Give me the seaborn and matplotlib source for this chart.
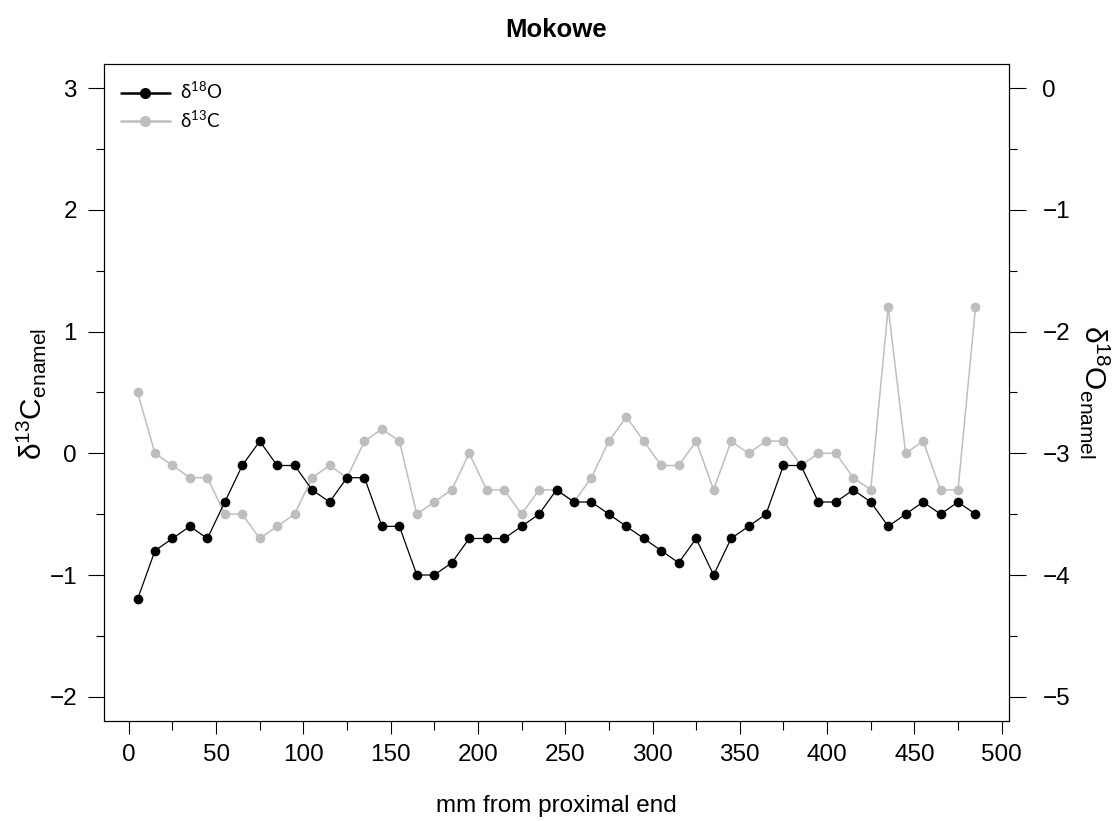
import matplotlib
matplotlib.use("Agg")
import matplotlib.pyplot as plt
from matplotlib.lines import Line2D
from matplotlib.ticker import MultipleLocator
import seaborn as sns

# Sample positions along the tooth (mm from proximal end)
pos_mm = [5, 15, 25, 35, 45, 55, 65, 75, 85, 95,
          105, 115, 125, 135, 145, 155, 165, 175, 185, 195,
          205, 215, 225, 235, 245, 255, 265, 275, 285, 295,
          305, 315, 325, 335, 345, 355, 365, 375, 385, 395,
          405, 415, 425, 435, 445, 455, 465, 475, 485]

# Enamel carbon isotope values (left axis)
d13c = [0.5, 0.0, -0.1, -0.2, -0.2, -0.5, -0.5, -0.7, -0.6, -0.5,
        -0.2, -0.1, -0.2, 0.1, 0.2, 0.1, -0.5, -0.4, -0.3, 0.0,
        -0.3, -0.3, -0.5, -0.3, -0.3, -0.4, -0.2, 0.1, 0.3, 0.1,
        -0.1, -0.1, 0.1, -0.3, 0.1, 0.0, 0.1, 0.1, -0.1, 0.0,
        0.0, -0.2, -0.3, 1.2, 0.0, 0.1, -0.3, -0.3, 1.2]

# Enamel oxygen isotope values (right axis)
d18o = [-4.2, -3.8, -3.7, -3.6, -3.7, -3.4, -3.1, -2.9, -3.1, -3.1,
        -3.3, -3.4, -3.2, -3.2, -3.6, -3.6, -4.0, -4.0, -3.9, -3.7,
        -3.7, -3.7, -3.6, -3.5, -3.3, -3.4, -3.4, -3.5, -3.6, -3.7,
        -3.8, -3.9, -3.7, -4.0, -3.7, -3.6, -3.5, -3.1, -3.1, -3.4,
        -3.4, -3.3, -3.4, -3.6, -3.5, -3.4, -3.5, -3.4, -3.5]

x_ticks = [0, 50, 100, 150, 200, 250, 300, 350, 400, 450, 500]
c_ticks = [-2, -1, 0, 1, 2, 3]
o_ticks = [-5, -4, -3, -2, -1, 0]

sns.set_style("ticks")
plt.rcParams["font.family"] = ["Liberation Sans", "DejaVu Sans"]
plt.rcParams["mathtext.fontset"] = "custom"
plt.rcParams["mathtext.rm"] = "Liberation Sans"
plt.rcParams["mathtext.it"] = "Liberation Sans"
plt.rcParams["axes.unicode_minus"] = True
plt.rcParams["text.color"] = "black"
plt.rcParams["xtick.color"] = "black"
plt.rcParams["ytick.color"] = "black"
plt.rcParams["xtick.labelcolor"] = "black"
plt.rcParams["ytick.labelcolor"] = "black"

GREY = "#BEBEBE"
W, H = 1119, 821
fig = plt.figure(figsize=(W / 100, H / 100), dpi=100)
L, R, T, B = 104, 1009, 64, 721
ax = fig.add_axes([L / W, 1 - B / H, (R - L) / W, (B - T) / H])
ax2 = ax.twinx()

sns.lineplot(x=pos_mm, y=d13c, ax=ax, color=GREY, marker="o",
             markersize=7, markeredgewidth=0, linewidth=1.1)
sns.lineplot(x=pos_mm, y=d18o, ax=ax2, color="black", marker="o",
             markersize=7, markeredgewidth=0, linewidth=0.9)

ax.set_xlim(-14.2, 504.2)
ax.set_ylim(-2.2, 3.2)
ax2.set_ylim(-5.2, 0.2)

ax.set_xticks(x_ticks)
ax.xaxis.set_minor_locator(MultipleLocator(25))
ax.set_yticks(c_ticks)
ax.yaxis.set_minor_locator(MultipleLocator(0.5))
ax2.set_yticks(o_ticks)
ax2.yaxis.set_minor_locator(MultipleLocator(0.5))

for a in (ax, ax2):
    a.set_xlabel("")
    a.set_ylabel("")
    for s in a.spines.values():
        s.set_visible(True)
        s.set_linewidth(0.8)
        s.set_color("black")

ax.tick_params(axis="x", which="major", length=9.5, width=0.8, pad=7,
               labelsize=17.5)
ax.tick_params(axis="x", which="minor", length=6.5, width=0.8)
ax.tick_params(axis="y", which="major", length=11.5, width=0.8, pad=8,
               labelsize=17.5)
ax.tick_params(axis="y", which="minor", length=6, width=0.8)
ax2.tick_params(axis="y", which="major", length=12, width=0.8, pad=12,
                labelsize=17.5)
ax2.tick_params(axis="y", which="minor", length=6, width=0.8)

# Titles and axis labels
fig.text((L + R) / 2 / W, 1 - 30 / H, "Mokowe", ha="center", va="center",
         fontsize=18.5, fontweight="bold")
fig.text((L + R) / 2 / W, 1 - 806 / H, "mm from proximal end",
         ha="center", va="center", fontsize=17.5)
fig.text(31 / W, 1 - 394 / H, r"$\mathregular{\delta^{13}C_{enamel}}$",
         rotation=90, ha="center", va="center", fontsize=21.5)
fig.text(1095 / W, 1 - 392 / H, r"$\mathregular{\delta^{18}O_{enamel}}$",
         rotation=270, ha="center", va="center", fontsize=21.5)

handles = [
    Line2D([], [], color="black", marker="o", markersize=8,
           markeredgewidth=0, linewidth=1.8, label=r"$\mathregular{\delta^{18}O}$"),
    Line2D([], [], color=GREY, marker="o", markersize=8,
           markeredgewidth=0, linewidth=1.8, label=r"$\mathregular{\delta^{13}C}$"),
]
ax2.legend(handles=handles, loc="upper left", bbox_to_anchor=(0.0, 1.0),
           frameon=False, handlelength=2.6, handletextpad=0.55,
           labelspacing=0.4, borderaxespad=0.5,
           prop={"family": ["Lato", "DejaVu Sans"], "size": 13.5})

fig.savefig("out.png", dpi=100)
